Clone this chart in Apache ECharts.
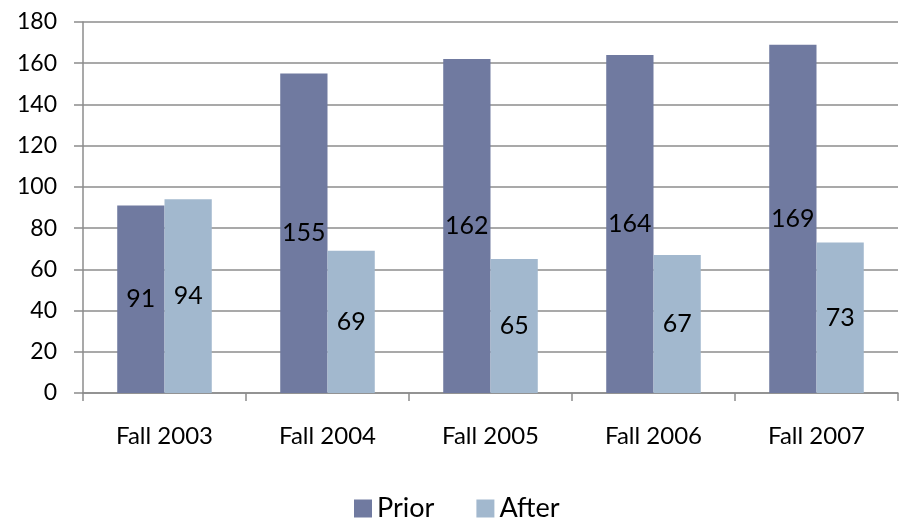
<!DOCTYPE html>
<html>
<head>
<meta charset="utf-8">
<script src="https://cdn.jsdelivr.net/npm/echarts@6/dist/echarts.min.js"></script>
<style>
  html, body { margin: 0; padding: 0; background: #fff; }
  #chart { width: 903px; height: 520px; }
</style>
</head>
<body>
<div id="chart"></div>
<script>
const categories = ['Fall 2003', 'Fall 2004', 'Fall 2005', 'Fall 2006', 'Fall 2007']
const prior = [91, 155, 162, 164, 169]
const after = [94, 69, 65, 67, 73]

const font = 'Lato'
const gray = '#8c8c8c'

const chart = echarts.init(document.getElementById('chart'))
chart.setOption({
  animation: false,
  textStyle: { fontFamily: font, color: '#000' },
  grid: { left: 83, right: 5, top: 22, bottom: 127 },
  legend: {
    left: 349,
    top: 490,
    itemWidth: 18,
    itemHeight: 18,
    itemGap: 42,
    icon: 'rect',
    textStyle: { fontFamily: font, fontSize: 27, color: '#000' },
    data: ['Prior', 'After']
  },
  xAxis: {
    type: 'category',
    data: categories,
    axisLine: { lineStyle: { color: gray, width: 1.5 } },
    axisTick: { show: true, length: 8, lineStyle: { color: gray, width: 1.5 } },
    axisLabel: { fontFamily: font, fontSize: 24, color: '#000', margin: 31 }
  },
  yAxis: {
    type: 'value',
    min: 0,
    max: 180,
    interval: 20,
    axisLine: { show: true, lineStyle: { color: gray, width: 1.5 } },
    axisTick: { show: true, length: 9, lineStyle: { color: gray, width: 1.5 } },
    axisLabel: { fontFamily: font, fontSize: 23, color: '#000', margin: 26 },
    splitLine: { lineStyle: { color: gray, width: 1.5 } }
  },
  series: [
    {
      name: 'Prior',
      type: 'bar',
      data: prior,
      barGap: '0%',
      barCategoryGap: '42%',
      itemStyle: { color: '#707aa0' },
      label: { show: true, position: 'inside', fontFamily: font, fontSize: 25, color: '#000' }
    },
    {
      name: 'After',
      type: 'bar',
      data: after,
      itemStyle: { color: '#a2b8ce' },
      label: { show: true, position: 'inside', fontFamily: font, fontSize: 25, color: '#000' }
    }
  ]
})
</script>
</body>
</html>
